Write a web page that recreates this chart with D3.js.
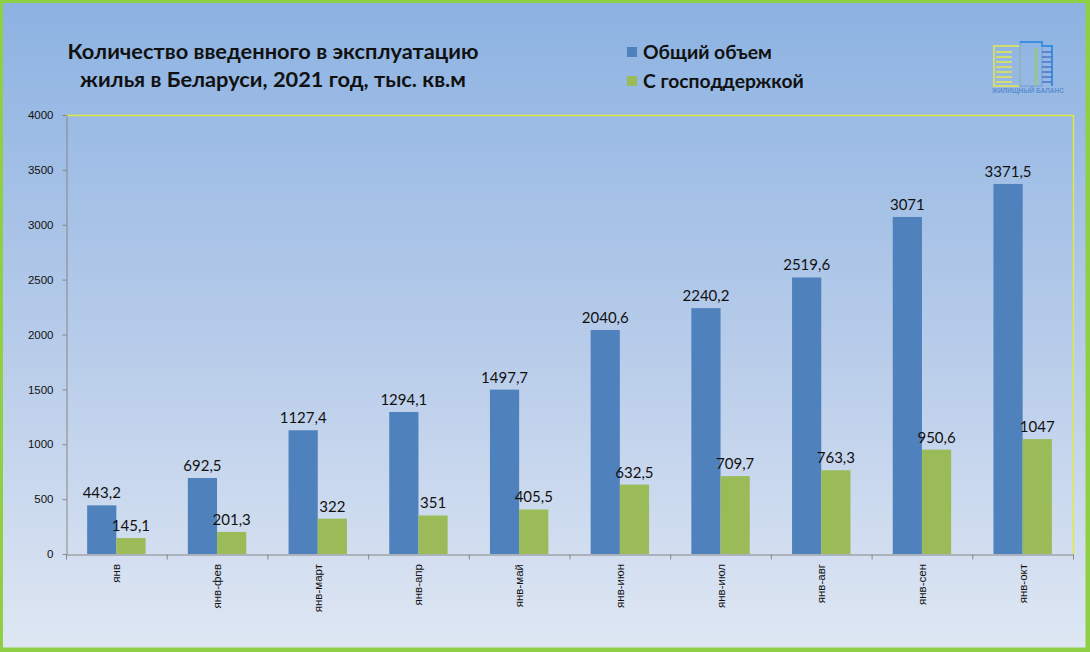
<!DOCTYPE html>
<html><head><meta charset="utf-8">
<script src="https://cdn.jsdelivr.net/npm/d3@7"></script>
<style>html,body{margin:0;padding:0;}svg{display:block;}</style>
</head><body>
<svg id="chart" width="1090" height="652"></svg>
<script>
const categories = ["янв","янв-фев","янв-март","янв-апр","янв-май","янв-июн","янв-июл","янв-авг","янв-сен","янв-окт"];
const totalValues = [443.2, 692.5, 1127.4, 1294.1, 1497.7, 2040.6, 2240.2, 2519.6, 3071, 3371.5];
const supportValues = [145.1, 201.3, 322, 351, 405.5, 632.5, 709.7, 763.3, 950.6, 1047];
const seriesNames = ["Общий объем", "С господдержкой"];
const seriesColors = ["#4f81bd", "#9bbb59"];
const yTicks = [0, 500, 1000, 1500, 2000, 2500, 3000, 3500, 4000];
const titleLines = ["Количество введенного в эксплуатацию", "жилья в Беларуси, 2021 год, тыс. кв.м"];

(function(){
const W = 1090, H = 652;
const svg = d3.select("#chart");
const defs = svg.append("defs");
const grad = defs.append("linearGradient").attr("id","bg").attr("x1",0).attr("y1",0).attr("x2",0).attr("y2",1);
grad.append("stop").attr("offset","0%").attr("stop-color","#8cb2e2");
grad.append("stop").attr("offset","55%").attr("stop-color","#b9cdea");
grad.append("stop").attr("offset","100%").attr("stop-color","#dfe7f3");
svg.append("rect").attr("x",0).attr("y",0).attr("width",W).attr("height",H).attr("fill","url(#bg)");
// outer green border
svg.append("rect").attr("x",1.5).attr("y",1.5).attr("width",W-4.5).attr("height",H-4.5)
  .attr("fill","none").attr("stroke","#8fcf44").attr("stroke-width",3);
svg.append("line").attr("x1",W-1.5).attr("x2",W-1.5).attr("y1",0).attr("y2",H).attr("stroke","#8fcf44").attr("stroke-width",3);
svg.append("line").attr("x1",0).attr("x2",W).attr("y1",H-1.5).attr("y2",H-1.5).attr("stroke","#8fcf44").attr("stroke-width",3);

const pLeft = 66, pRight = 1073, pTop = 115, pBottom = 554;
const x = d3.scaleBand().domain(categories).range([pLeft, pRight]).paddingInner(0).paddingOuter(0);
const bw = x.bandwidth();
const xs = d3.scaleBand().domain([0,1]).range([bw*0.21, bw*0.79]).padding(0);
const y = d3.scaleLinear().domain([0, 4000]).range([pBottom, pTop]);

// plot area border (yellow top & right)
svg.append("line").attr("x1",pLeft).attr("x2",pRight+1).attr("y1",pTop+0.5).attr("y2",pTop+0.5).attr("stroke","#e0ea3c").attr("stroke-width",1.5);
svg.append("line").attr("x1",pRight+0.5).attr("x2",pRight+0.5).attr("y1",pTop).attr("y2",pBottom).attr("stroke","#e0ea3c").attr("stroke-width",1.5);

const font = "Lato, 'Open Sans', sans-serif";

// bars
const series = [totalValues, supportValues];
series.forEach((vals, si) => {
  const g = svg.append("g");
  g.selectAll("rect").data(vals).join("rect")
    .attr("x", (d,i) => x(categories[i]) + xs(si))
    .attr("width", xs.bandwidth())
    .attr("y", d => y(d))
    .attr("height", d => y(0) - y(d))
    .attr("fill", seriesColors[si]);
  g.selectAll("text").data(vals).join("text")
    .attr("x", (d,i) => x(categories[i]) + xs(si) + xs.bandwidth()/2)
    .attr("y", d => y(d) - 7)
    .attr("text-anchor","middle")
    .attr("font-family", font).attr("font-size", 15).attr("fill","#111")
    .text(d => String(d).replace(".", ","));
});

// y axis
const yAxis = d3.axisLeft(y).tickValues(yTicks).tickSize(4).tickSizeOuter(0).tickPadding(9).tickFormat(d3.format("d"));
const yg = svg.append("g").attr("transform",`translate(${pLeft+0.5},0)`).call(yAxis);
yg.select(".domain").attr("stroke","#868686");
yg.selectAll(".tick line").attr("stroke","#868686");
yg.selectAll(".tick text").attr("font-family","Arial, 'Liberation Sans', sans-serif").attr("font-size",11.5).attr("fill","#111");

// x axis
const xAxis = d3.axisBottom(x).tickSize(0).tickSizeOuter(0).tickFormat("");
const xg = svg.append("g").attr("transform",`translate(0,${pBottom+0.5})`).call(xAxis);
xg.select(".domain").attr("stroke","#868686");
const boundaries = categories.map(c => x(c)).concat([pRight]);
xg.selectAll(".bnd").data(boundaries).join("line").attr("class","bnd")
  .attr("x1", d => d+0.5).attr("x2", d => d+0.5).attr("y1",0).attr("y2",5).attr("stroke","#868686");
svg.append("g").selectAll("text").data(categories).join("text")
  .attr("transform", d => `translate(${x(d)+bw/2+4},${pBottom+10}) rotate(-90)`)
  .attr("text-anchor","end")
  .attr("font-family","Arial, 'Liberation Sans', sans-serif").attr("font-size",11.5).attr("fill","#111")
  .text(d => d);

// title
svg.append("g").selectAll("text").data(titleLines).join("text")
  .attr("x", 273).attr("y", (d,i) => 59 + i*28)
  .attr("text-anchor","middle")
  .attr("font-family", font).attr("font-weight","bold").attr("font-size",21.8).attr("fill","#111")
  .text(d => d);

// legend
const lg = svg.append("g");
seriesNames.forEach((n,i) => {
  lg.append("rect").attr("x",627).attr("y",47 + i*29).attr("width",10).attr("height",10).attr("fill",seriesColors[i]);
  lg.append("text").attr("x",643).attr("y",58.5 + i*29)
    .attr("font-family", font).attr("font-weight","bold").attr("font-size",19.3).attr("fill","#111").text(n);
});

// logo
const logo = svg.append("g").attr("transform","translate(990,40)");
logo.append("rect").attr("x",4).attr("y",6).attr("width",26).attr("height",40).attr("fill","none").attr("stroke","#e6e84a").attr("stroke-width",1.5);
for (let k=0;k<7;k++) logo.append("line").attr("x1",6).attr("x2",22).attr("y1",12+k*5).attr("y2",12+k*5).attr("stroke","#e6e84a").attr("stroke-width",1.5);
logo.append("rect").attr("x",30).attr("y",2).attr("width",22).attr("height",44).attr("fill","none").attr("stroke","#7aa6d8").attr("stroke-width",1.5);
logo.append("path").attr("d","M30,2 L52,2 L52,6 L62,6 L62,46").attr("fill","none").attr("stroke","#3a8ee0").attr("stroke-width",2);
for (let k=0;k<7;k++) logo.append("line").attr("x1",52).attr("x2",62).attr("y1",12+k*5).attr("y2",12+k*5).attr("stroke","#4d74c8").attr("stroke-width",1.5);
logo.append("line").attr("x1",46).attr("x2",46).attr("y1",8).attr("y2",46).attr("stroke","#9bcf3c").attr("stroke-width",1.5);
logo.append("text").attr("x",38).attr("y",53).attr("text-anchor","middle")
  .attr("font-family","Arial, sans-serif").attr("font-size",6.5).attr("font-weight","bold").attr("fill","#5b8ed0").text("ЖИЛИЩНЫЙ БАЛАНС");
})();
</script>
</body></html>
